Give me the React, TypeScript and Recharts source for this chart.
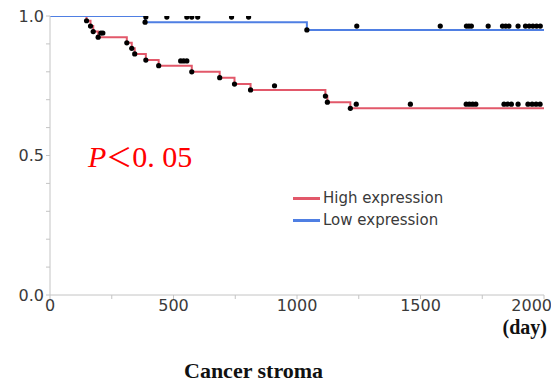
import {
  ComposedChart,
  Line,
  Scatter,
  XAxis,
  YAxis,
} from 'recharts';

// Kaplan-Meier steps (day, survival)
const highDays = [0, 148, 164, 175, 195, 311, 331, 343, 388, 440, 574, 687, 747, 812, 1115, 1123, 1216, 2000];
const highSurv = [1, 0.983, 0.964, 0.944, 0.924, 0.904, 0.884, 0.864, 0.842, 0.822, 0.8, 0.779, 0.756, 0.735, 0.713, 0.691, 0.669, 0.669];

const lowDays = [0, 385, 1040, 2000];
const lowSurv = [1, 0.978, 0.95, 0.95];

// censored marks (drawn slightly above the curve, as in the figure)
const highCensorDays = [206, 214, 529, 541, 554, 909, 1240, 1459, 1685, 1698, 1711, 1724, 1838, 1853, 1868, 1895, 1935, 1952, 1968, 1984];
const highCensorSurv = [0.939, 0.939, 0.839, 0.839, 0.839, 0.75, 0.684, 0.684, 0.684, 0.684, 0.684, 0.684, 0.684, 0.684, 0.684, 0.684, 0.684, 0.684, 0.684, 0.684];

const lowCensorDays = [388, 473, 554, 574, 598, 735, 804, 1242, 1580, 1686, 1696, 1706, 1774, 1832, 1845, 1858, 1895, 1925, 1940, 1955, 1970, 1985];
const lowCensorSurv = [0.996, 0.996, 0.996, 0.996, 0.996, 0.996, 0.996, 0.964, 0.964, 0.964, 0.964, 0.964, 0.964, 0.964, 0.964, 0.964, 0.964, 0.964, 0.964, 0.964, 0.964, 0.964];

const xTicks = [0, 250, 500, 750, 1000, 1250, 1500, 1750, 2000];
const yTicks = [0, 0.1, 0.2, 0.3, 0.4, 0.5, 0.6, 0.7, 0.8, 0.9, 1];

const legendItems = [
  { name: 'High expression', color: '#e2586a' },
  { name: 'Low expression', color: '#4f7fe3' },
];

const zip = (days: number[], surv: number[]) => days.map((day, i) => ({ day, surv: surv[i] }));

const highLine = zip(highDays, highSurv);
const lowLine = zip(lowDays, lowSurv);
// event dots at each step corner, plus censored marks
const highDots = [...highLine.slice(1, -1), ...zip(highCensorDays, highCensorSurv)];
const lowDots = [...lowLine.slice(1, -1), ...zip(lowCensorDays, lowCensorSurv)];

const AXIS = '#c4c4c4';
const TICK_FONT = { fontFamily: '"DejaVu Sans", Verdana, sans-serif', fontSize: 16, fill: '#3a3a3a' };
const SERIF = '"Liberation Serif", "Times New Roman", serif';

function XTick(props: any) {
  const { x, y, payload } = props;
  const v = payload.value;
  if (v % 500 !== 0) return null;
  const last = v === 2000;
  return (
    <text x={last ? x + 8 : x} y={y - 1} dy="0.71em" textAnchor={last ? 'end' : 'middle'} {...TICK_FONT}>
      {v}
    </text>
  );
}

function YTick(props: any) {
  const { x, y, payload } = props;
  const v = payload.value;
  if (v !== 0 && v !== 0.5 && v !== 1) return null;
  return (
    <text x={x} y={y} dy="0.355em" textAnchor="end" {...TICK_FONT}>
      {v.toFixed(1)}
    </text>
  );
}

function Dot(props: any) {
  const { cx, cy } = props;
  return <circle cx={cx} cy={cy} r={2.6} fill="#000" />;
}

export default function App() {
  return (
    <div style={{ position: 'absolute', left: 0, top: 0, width: 551, height: 383, background: '#fff', overflow: 'hidden' }}>
      <ComposedChart width={551} height={383} margin={{ top: 16, right: 7, left: 0, bottom: 58 }}>
        <XAxis
          type="number"
          dataKey="day"
          domain={[0, 2000]}
          ticks={xTicks}
          interval={0}
          tick={<XTick />}
          tickSize={4}
          stroke={AXIS}
          height={30}
          allowDataOverflow
        />
        <YAxis
          type="number"
          dataKey="surv"
          domain={[0, 1]}
          ticks={yTicks}
          interval={0}
          tick={<YTick />}
          tickSize={4}
          stroke={AXIS}
          width={50}
          allowDataOverflow
        />
        <Line
          data={highLine}
          dataKey="surv"
          name="High expression"
          type="stepAfter"
          stroke="#e2586a"
          strokeWidth={2}
          dot={false}
          isAnimationActive={false}
        />
        <Line
          data={lowLine}
          dataKey="surv"
          name="Low expression"
          type="stepAfter"
          stroke="#4f7fe3"
          strokeWidth={2}
          dot={false}
          isAnimationActive={false}
        />
        <Scatter data={highDots} dataKey="surv" shape={<Dot />} isAnimationActive={false} />
        <Scatter data={lowDots} dataKey="surv" shape={<Dot />} isAnimationActive={false} />
      </ComposedChart>

      {/* legend */}
      <div
        style={{
          position: 'absolute',
          left: 293,
          top: 187,
          fontFamily: '"DejaVu Sans", Verdana, sans-serif',
          fontSize: 15,
          color: '#3a3a3a',
        }}
      >
        {legendItems.map((it) => (
          <div key={it.name} style={{ display: 'flex', alignItems: 'center', height: 22 }}>
            <span style={{ display: 'inline-block', width: 27, height: 3, background: it.color, marginRight: 3 }} />
            <span>{it.name}</span>
          </div>
        ))}
      </div>

      <div
        style={{
          position: 'absolute',
          left: 88,
          top: 141,
          color: '#ff0000',
          fontFamily: SERIF,
          fontSize: 30,
          lineHeight: '30px',
          whiteSpace: 'pre',
        }}
      >
        <span style={{ fontStyle: 'italic' }}>P</span>
        <span style={{ fontFamily: '"Noto Sans CJK JP", sans-serif', fontSize: 26 }}>＜</span>
        <span>0. 05</span>
      </div>
      <div
        style={{
          position: 'absolute',
          right: 4,
          top: 317,
          fontFamily: SERIF,
          fontWeight: 'bold',
          fontSize: 20,
          lineHeight: '20px',
          color: '#111',
        }}
      >
        (day)
      </div>
      <div
        style={{
          position: 'absolute',
          left: 184,
          top: 358,
          fontFamily: SERIF,
          fontWeight: 'bold',
          fontSize: 22,
          color: '#111',
          whiteSpace: 'nowrap',
        }}
      >
        Cancer stroma
      </div>
    </div>
  );
}
